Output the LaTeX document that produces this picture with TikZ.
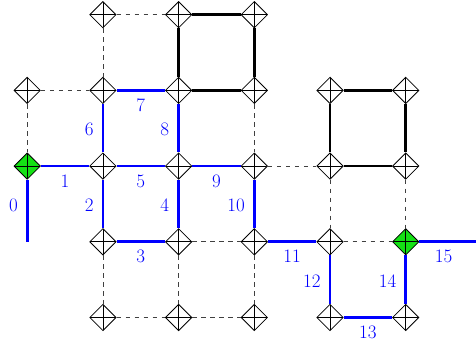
\documentclass[tikz,border=0pt]{standalone}
\usepackage{fontspec}
\usetikzlibrary{shapes.geometric}
\definecolor{nodegreen}{RGB}{20,225,20}
\tikzset{
  gp/.style={diamond, draw=black, line width=0.8pt, fill=white, inner sep=0pt,
    minimum size=26.5pt,
    path picture={\draw[line width=0.8pt] (path picture bounding box.north) -- (path picture bounding box.south)
      (path picture bounding box.west) -- (path picture bounding box.east);}},
  gg/.style={gp, fill=nodegreen},
  dsh/.style={draw=black!75, line width=0.8pt, dash pattern=on 4.5pt off 4.5pt},
  blk/.style={draw=black, line width=2.6pt},
  bl/.style={draw=blue, line width=2.8pt},
  lbl/.style={text=blue, inner sep=0pt, font=\fontsize{19}{22}\selectfont},
  lh/.style={lbl, midway, yshift=-14.8pt},
  lv/.style={lbl, midway, anchor=east, xshift=-8pt, yshift=-1.5pt},
}
\begin{document}
\begin{tikzpicture}[x=75.7pt, y=-75.7pt]
\useasboundingbox (-27.2pt,14.7pt) rectangle (448.8pt,-329.3pt);
% grid points
\foreach \i in {1,2,3} \coordinate (p\i0) at (\i,0);
\foreach \i in {0,...,5} \coordinate (p\i1) at (\i,1);
\foreach \i in {0,...,5} \coordinate (p\i2) at (\i,2);
\foreach \i in {1,...,5} \coordinate (p\i3) at (\i,3);
\foreach \i in {1,...,5} \coordinate (p\i4) at (\i,4);
\coordinate (c0) at (0,3);
\coordinate (e15) at (448.8pt,-3*75.7pt);
% nodes (drawn first to get names; redrawn on top later)
\foreach \n in {10,20,30,01,11,21,31,41,51,12,22,32,42,52,13,23,33,43,14,24,34,44,54}
  \node[gp] (n\n) at (p\n) {};
\node[gg] (n02) at (p02) {};
\node[gg] (n53) at (p53) {};
% dashed edges
\draw[dsh] (n10) -- (n20);
\draw[dsh] (n10) -- (n11);
\draw[dsh] (n01) -- (n11);
\draw[dsh] (n01) -- (n02);
\draw[dsh] (n31) -- (n32);
\draw[dsh] (n32) -- (n42);
\draw[dsh] (n42) -- (n43);
\draw[dsh] (n52) -- (n53);
\draw[dsh] (n23) -- (n33);
\draw[dsh] (n43) -- (n53);
\draw[dsh] (n13) -- (n14);
\draw[dsh] (n23) -- (n24);
\draw[dsh] (n33) -- (n34);
\draw[dsh] (n14) -- (n24);
\draw[dsh] (n24) -- (n34);
% black squares
\draw[blk] (n20) -- (n30);
\draw[blk] (n20) -- (n21);
\draw[blk] (n30) -- (n31);
\draw[blk] (n21) -- (n31);
\draw[blk] (n41) -- (n51);
\draw[blk] (n41) -- (n42);
\draw[blk] (n51) -- (n52);
\draw[blk] (n42) -- (n52);
% blue path
\draw[bl] (n02) -- node[lv, pos=0.39]{0} (c0);
\draw[bl] (n02) -- node[lh]{1} (n12);
\draw[bl] (n12) -- node[lv]{2} (n13);
\draw[bl] (n13) -- node[lh]{3} (n23);
\draw[bl] (n22) -- node[lv]{4} (n23);
\draw[bl] (n12) -- node[lh]{5} (n22);
\draw[bl] (n11) -- node[lv]{6} (n12);
\draw[bl] (n11) -- node[lh]{7} (n21);
\draw[bl] (n21) -- node[lv]{8} (n22);
\draw[bl] (n22) -- node[lh]{9} (n32);
\draw[bl] (n32) -- node[lv]{10} (n33);
\draw[bl] (n33) -- node[lh]{11} (n43);
\draw[bl] (n43) -- node[lv]{12} (n44);
\draw[bl] (n44) -- node[lh]{13} (n54);
\draw[bl] (n53) -- node[lv]{14} (n54);
\draw[bl] (n53) -- node[lh, pos=0.43]{15} (e15);
\end{tikzpicture}
\end{document}
